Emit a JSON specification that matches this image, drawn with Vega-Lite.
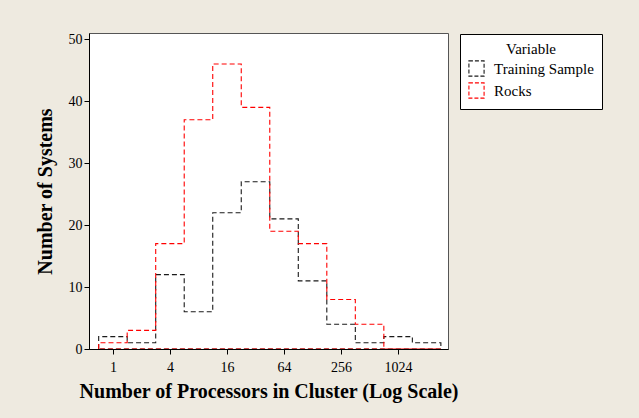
{
  "$schema": "https://vega.github.io/schema/vega-lite/v6.json",
  "width": 359,
  "height": 316,
  "padding": {"left": 35, "top": 32, "right": 36, "bottom": 17},
  "background": "#EEEAE0",
  "config": {
    "font": "Liberation Serif",
    "view": {"fill": "white", "stroke": "#555", "strokeWidth": 1},
    "axis": {
      "labelFont": "Liberation Serif",
      "titleFont": "Liberation Serif",
      "labelFontSize": 14,
      "titleFontSize": 20,
      "titleFontWeight": "bold",
      "labelColor": "black",
      "titleColor": "black",
      "domainColor": "black",
      "tickColor": "black",
      "tickSize": 5,
      "grid": false
    }
  },
  "data": {
    "values": [
      {"series": "Training Sample", "ord": 0, "x": 0.7071, "y": 0},
      {"series": "Training Sample", "ord": 1, "x": 0.7071, "y": 2},
      {"series": "Training Sample", "ord": 2, "x": 1.4142, "y": 1},
      {"series": "Training Sample", "ord": 3, "x": 2.8284, "y": 12},
      {"series": "Training Sample", "ord": 4, "x": 5.6569, "y": 6},
      {"series": "Training Sample", "ord": 5, "x": 11.3137, "y": 22},
      {"series": "Training Sample", "ord": 6, "x": 22.6274, "y": 27},
      {"series": "Training Sample", "ord": 7, "x": 45.2548, "y": 21},
      {"series": "Training Sample", "ord": 8, "x": 90.5097, "y": 11},
      {"series": "Training Sample", "ord": 9, "x": 181.0193, "y": 4},
      {"series": "Training Sample", "ord": 10, "x": 362.0387, "y": 1},
      {"series": "Training Sample", "ord": 11, "x": 724.0773, "y": 2},
      {"series": "Training Sample", "ord": 12, "x": 1448.1547, "y": 1},
      {"series": "Training Sample", "ord": 13, "x": 2896.3094, "y": 0},
      {"series": "Training Sample", "ord": 14, "x": 0.7071, "y": 0},
      {"series": "Rocks", "ord": 0, "x": 0.7071, "y": 0},
      {"series": "Rocks", "ord": 1, "x": 0.7071, "y": 1},
      {"series": "Rocks", "ord": 2, "x": 1.4142, "y": 3},
      {"series": "Rocks", "ord": 3, "x": 2.8284, "y": 17},
      {"series": "Rocks", "ord": 4, "x": 5.6569, "y": 37},
      {"series": "Rocks", "ord": 5, "x": 11.3137, "y": 46},
      {"series": "Rocks", "ord": 6, "x": 22.6274, "y": 39},
      {"series": "Rocks", "ord": 7, "x": 45.2548, "y": 19},
      {"series": "Rocks", "ord": 8, "x": 90.5097, "y": 17},
      {"series": "Rocks", "ord": 9, "x": 181.0193, "y": 8},
      {"series": "Rocks", "ord": 10, "x": 362.0387, "y": 4},
      {"series": "Rocks", "ord": 11, "x": 724.0773, "y": 0},
      {"series": "Rocks", "ord": 12, "x": 1448.1547, "y": 0},
      {"series": "Rocks", "ord": 13, "x": 2896.3094, "y": 0},
      {"series": "Rocks", "ord": 14, "x": 0.7071, "y": 0}
    ]
  },
  "mark": {"type": "line", "interpolate": "step-after", "strokeDash": [5, 3], "strokeWidth": 1.1, "clip": true},
  "encoding": {
    "x": {
      "field": "x",
      "type": "quantitative",
      "scale": {"type": "log", "base": 2, "domain": [0.559, 3444], "nice": false},
      "axis": {
        "values": [1, 4, 16, 64, 256, 1024],
        "format": "d",
        "title": "Number of Processors in Cluster (Log Scale)",
        "labelPadding": 6,
        "titlePadding": 7
      }
    },
    "y": {
      "field": "y",
      "type": "quantitative",
      "scale": {"domain": [0, 51], "nice": false},
      "axis": {
        "values": [0, 10, 20, 30, 40, 50],
        "title": "Number of Systems",
        "labelPadding": 2,
        "titlePadding": 13
      }
    },
    "order": {"field": "ord", "type": "quantitative"},
    "color": {
      "field": "series",
      "type": "nominal",
      "sort": ["Training Sample", "Rocks"],
      "scale": {"domain": ["Training Sample", "Rocks"], "range": ["#1a1a1a", "#ff0000"]},
      "legend": {
        "title": "Variable",
        "orient": "none",
        "legendX": 371,
        "legendY": 1,
        "fillColor": "white",
        "strokeColor": "black",
        "padding": 8,
        "titleFont": "Liberation Serif",
        "titleFontWeight": "normal",
        "titleFontSize": 15,
        "titleColor": "black",
        "titleAnchor": "middle",
        "titlePadding": 3,
        "labelFont": "Liberation Serif",
        "labelFontSize": 15,
        "labelColor": "black",
        "labelOffset": 9,
        "rowPadding": 1,
        "symbolType": "square",
        "symbolSize": 230,
        "symbolDash": [4, 2],
        "symbolStrokeWidth": 1.1,
        "symbolFillColor": "white"
      }
    }
  }
}
